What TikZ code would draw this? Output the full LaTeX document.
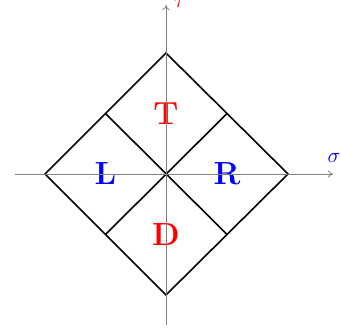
\documentclass[tikz,border=0pt]{standalone}
\usepackage{fontspec}
\usepackage{graphicx}
\usetikzlibrary{arrows.meta}
\begin{document}
\begin{tikzpicture}[x=1pt,y=-1pt,
  axis/.style={draw=gray,line width=0.8pt,-{To[length=5pt,width=7pt]}},
  edge/.style={draw=black,line width=1.6pt,line join=miter},
  lab/.style={font=\fontsize{32}{32}\selectfont\bfseries,inner sep=0pt},
  axlab/.style={inner sep=0pt,anchor=base}]
\useasboundingbox (0,0) rectangle (341,334);
\clip (0,0) rectangle (341,334);
% diamond vertices
\coordinate (N) at (166,53);
\coordinate (S) at (166,295);
\coordinate (W) at (45,174);
\coordinate (E) at (288,174);
\coordinate (NW) at (105.5,113.5);
\coordinate (NE) at (227,113.5);
\coordinate (SW) at (105.5,234.5);
\coordinate (SE) at (227,234.5);
% labels
\node[lab,text=red] (T) at (166,113.5) {T};
\node[lab,text=blue] (L) at (105.5,174) {L};
\node[lab,text=blue] (R) at (227,174) {R};
\node[lab,text=red] (D) at (166,234.5) {D};
% diamond
\draw[edge] (N) -- (E) -- (S) -- (W) -- cycle;
\draw[edge] (NW) -- (SE);
\draw[edge] (NE) -- (SW);
% axes
\coordinate (xl) at (15,174);
\coordinate (xr) at (333,174);
\coordinate (yb) at (166,325);
\coordinate (yt) at (166,5);
\draw[axis] (xl) -- (xr);
\draw[axis] (yb) -- (yt);
\node[axlab,text=blue] (sig) at (334,163) {\scalebox{2.1}{$\sigma$}};
\node[axlab,text=red] (tau) at (180,8) {\scalebox{2.1}{$\tau$}};
\end{tikzpicture}
\end{document}
